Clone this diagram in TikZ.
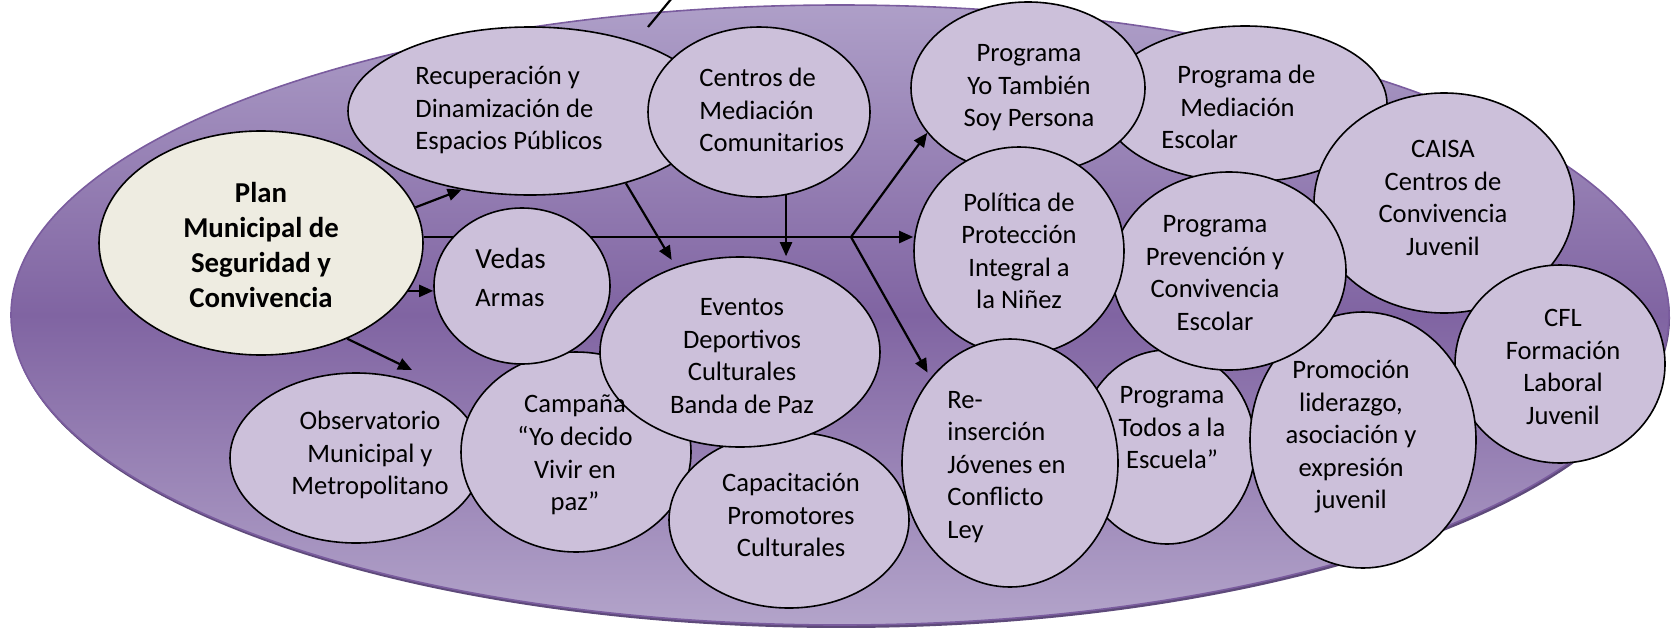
\documentclass[tikz,border=0pt]{standalone}
\usepackage{fontspec}
\setmainfont{Carlito}
\usetikzlibrary{shapes.geometric,arrows.meta,calc}
\definecolor{bubfill}{HTML}{CCC0DA}
\definecolor{planfill}{HTML}{EEECE1}
\definecolor{bgtop}{HTML}{AE9FC8}
\definecolor{bgmid}{HTML}{8064A2}
\definecolor{bgbot}{HTML}{B3A4CA}
\definecolor{bgedge}{HTML}{7A5C9E}
\definecolor{bgshadow}{HTML}{5E4A7A}
\begin{document}
\begin{tikzpicture}[x=0.5pt,y=-0.5pt,
  bub/.style={ellipse,draw=black,line width=0.8pt,fill=bubfill,inner sep=0pt},
  txt/.style={font=\fontsize{13.3}{16.25}\selectfont,align=center,inner sep=0pt},
  ltxt/.style={txt,align=left,anchor=west},
  ln/.style={line width=1.1pt,draw=black},
  arr/.style={ln,-{Triangle[length=7pt,width=6pt]}}]
\useasboundingbox (0,0) rectangle (1680,627);
% background ellipse
\node[ellipse,fill=bgshadow,minimum width=829pt,minimum height=310pt,inner sep=0pt] (bgsh) at (841,318) {};
\node[ellipse,draw=bgedge,line width=0.8pt,top color=bgtop,bottom color=bgbot,middle color=bgmid,minimum width=829pt,minimum height=310pt,inner sep=0pt] (bg) at (840,315) {};
% stray line at top
\coordinate (topA) at (672,-2);
\coordinate (topB) at (648,27);
\draw[ln] (topA) -- (topB);
% main node and main line behind the bubbles
\coordinate (br) at (851,237);
\node[bub,fill=planfill,minimum width=162pt,minimum height=112pt] (plan) at (261,243) {};
\draw[ln] (plan.east |- br) -- (br);
% bubbles (back to front)
\node[bub,minimum width=182pt,minimum height=84pt] (rec) at (530,111) {};
\node[bub,minimum width=111pt,minimum height=85pt] (cen) at (759,112) {};
\node[bub,minimum width=142pt,minimum height=78pt] (med) at (1245,104) {};
\node[bub,minimum width=117pt,minimum height=86pt] (yt) at (1028,88) {};
\node[bub,minimum width=130pt,minimum height=110pt] (cai) at (1444,203) {};
\node[bub,minimum width=105pt,minimum height=99pt] (cfl) at (1560,364) {};
\node[bub,minimum width=88pt,minimum height=97pt] (tod) at (1167,447) {};
\node[bub,minimum width=113pt,minimum height=128pt] (pro) at (1363,440) {};
\node[bub,minimum width=117pt,minimum height=99pt] (pre) at (1229,271) {};
\node[bub,minimum width=105pt,minimum height=104pt] (pol) at (1019,251) {};
\node[bub,minimum width=108pt,minimum height=124pt] (rei) at (1010,463) {};
\node[bub,minimum width=126pt,minimum height=85pt] (obs) at (356,458) {};
\node[bub,minimum width=115pt,minimum height=100pt] (cam) at (576,452) {};
\node[bub,minimum width=88pt,minimum height=78pt] (ved) at (522,286) {};
\node[bub,minimum width=120pt,minimum height=88pt] (cap) at (789,520) {};
\node[bub,minimum width=140pt,minimum height=95pt] (ev) at (740,352) {};
% texts
\node[txt,font=\fontsize{14.4}{17.5}\selectfont\bfseries] (plant) at (261,245) {Plan\\Municipal de\\Seguridad y\\Convivencia};
\node[ltxt] (rect) at (415,110) {Recuperación y\\Dinamización de\\Espacios Públicos};
\node[ltxt] (cent) at (699,110) {Centros de\\Mediación\\Comunitarios};
\node[txt] (ytt) at (1029,88) {Programa\\Yo También\\Soy Persona};
\node[ltxt] (medt) at (1161,107) {\hspace*{8pt}Programa de\\\hspace*{9.5pt}Mediación\\Escolar};
\node[txt] (cait) at (1443,198) {CAISA\\Centros de\\Convivencia\\Juvenil};
\node[txt] (polt) at (1019,251) {Política de\\Protección\\Integral a\\la Niñez};
\node[txt] (pret) at (1215,273) {Programa\\Prevención y\\Convivencia\\Escolar};
\node[txt] (cflt) at (1563,367) {CFL\\Formación\\Laboral\\Juvenil};
\node[ltxt] (reit) at (947,467) {Re-\\inserción\\Jóvenes en\\Conflicto\\Ley};
\node[txt] (todt) at (1172,428) {Programa\\Todos a la\\Escuela”};
\node[txt] (prot) at (1351,437) {Promoción\\liderazgo,\\asociación y\\expresión\\juvenil};
\node[txt] (obst) at (370,455) {Observatorio\\Municipal y\\Metropolitano};
\node[txt] (camt) at (575,455) {Campaña\\“Yo decido\\Vivir en\\paz”};
\node[txt] (evt) at (742,356) {Eventos\\Deportivos\\Culturales\\Banda de Paz};
\node[txt] (capt) at (791,515) {Capacitación\\Promotores\\Culturales};
\node[ltxt,font=\fontsize{14.6}{17}\selectfont] (vedt) at (475,258) {Vedas};
\node[ltxt] (armt) at (475,298) {Armas};
% arrows
\draw[arr] (plan.13) -- (rec.229);
\draw[arr] (plan.-18) -- (plan.-18 -| ved.west);
\draw[arr] (plan.-48) -- ([shift={(56,-88)}]obs.center);
\draw[arr,shorten >=4pt] (rec.-37) -- (ev.127);
\draw[arr] (cen.-72) -- (cen.-72 |- ev.north);
\draw[arr] (br) -- (br -| pol.west);
\draw[arr] (br) -- (yt.204);
\draw[arr,shorten >=3pt] (br) -- (rei.133);
\end{tikzpicture}
\end{document}
